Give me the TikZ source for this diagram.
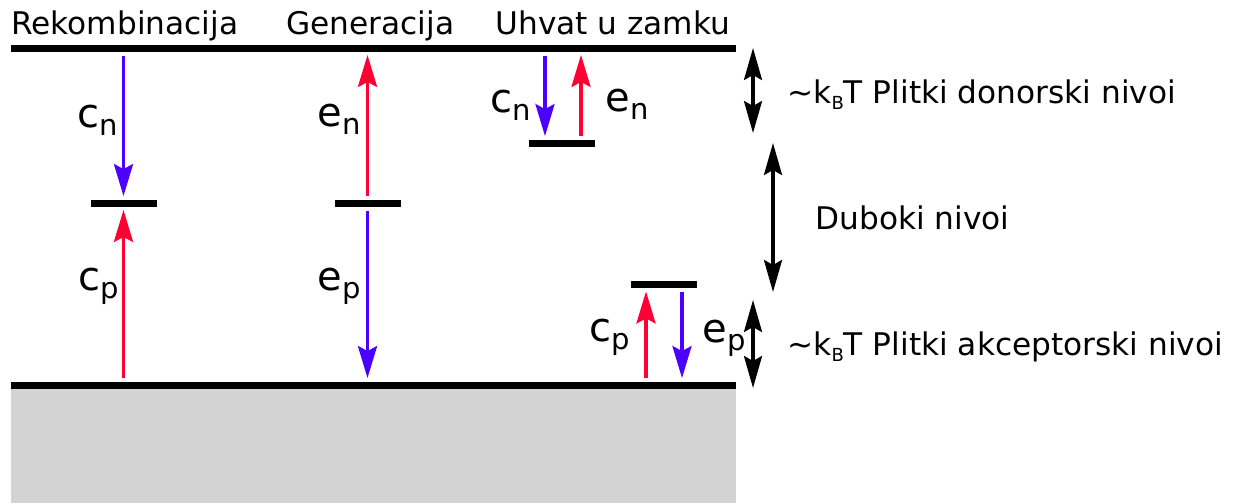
\documentclass[tikz,border=0pt]{standalone}
\usepackage{fontspec}
\setmainfont{DejaVu Sans}
\definecolor{cBlue}{HTML}{4C00FF}
\definecolor{cRed}{HTML}{FF0033}
\definecolor{cFill}{HTML}{D3D3D3}
\usetikzlibrary{arrows.meta}
\newcommand{\rate}[2]{{\fontsize{20}{24}\selectfont #1\raisebox{-4pt}{\fontsize{14.5}{16}\selectfont #2}}}
\newcommand{\kbt}{\textasciitilde k\raisebox{-3pt}{\fontsize{9}{10}\selectfont B}T}

\begin{document}
\begin{tikzpicture}[x=0.5pt,y=-0.5pt,
      band/.style={fill=black,inner sep=0,minimum width=362.5pt,minimum height=3.5pt},
      lvl/.style={fill=black,inner sep=0,minimum width=33pt,minimum height=3.5pt},
      head/.style={font=\fontsize{15.6}{18}\selectfont,anchor=base west,inner sep=0},
      rlab/.style={anchor=base west,inner sep=0},
      ncap/.style={color=cBlue,line width=1.75pt,-{Stealth[length=16pt,width=9.5pt,inset=2.5pt]},shorten <=2pt,shorten >=1.5pt},
      pcap/.style={color=cRed,line width=1.75pt,-{Stealth[length=16pt,width=9.5pt,inset=2.5pt]},shorten <=1.5pt,shorten >=1.5pt},
      span/.style={line width=1.6pt,{Stealth[length=16pt,width=9pt,inset=2.5pt]}-{Stealth[length=16pt,width=9pt,inset=2.5pt]}}]
    \useasboundingbox (0,0) rectangle (1234,503);
    % valence band fill and band edges
    \fill[cFill] (11,388) rectangle (736,503);
    \node[band] (cb) at (373.5,48) {};
    \node[band] (vb) at (373.5,385) {};
    % column titles
    \node[head] (tRek) at (11,34) {Rekombinacija};
    \node[head] (tGen) at (286,34) {Generacija};
    \node[head] (tUhv) at (495,34) {Uhvat u zamku};
    % trap levels
    \node[lvl] (rl) at (123.5,203) {};
    \node[lvl] (gl) at (367.5,203) {};
    \node[lvl] (dl) at (562,143) {};
    \node[lvl] (al) at (663.5,284.5) {};
    % recombination
    \draw[ncap] (rl |- cb.south) -- (rl.north);
    \draw[pcap] (rl |- vb.north) -- (rl.south);
    \node[rlab] (rcn) at (77,127) {\rate{c}{n}};
    \node[rlab] (rcp) at (78,290) {\rate{c}{p}};
    % generation
    \draw[pcap] (gl.north) -- (gl |- cb.south);
    \draw[ncap] (gl.south) -- (gl |- vb.north);
    \node[rlab] (gen) at (317,126) {\rate{e}{n}};
    \node[rlab] (gep) at (317,290) {\rate{e}{p}};
    % shallow traps
    \draw[ncap] ([xshift=-8.5pt]dl.north |- cb.south) -- ([xshift=-8.5pt]dl.north);
    \draw[pcap] ([xshift=9.5pt]dl.north) -- ([xshift=9.5pt]dl.north |- cb.south);
    \node[rlab] (dcn) at (490,112) {\rate{c}{n}};
    \node[rlab] (den) at (605,111) {\rate{e}{n}};
    \draw[pcap] ([xshift=-8.75pt]al.south |- vb.north) -- ([xshift=-8.75pt]al.south);
    \draw[ncap] ([xshift=9.25pt]al.south) -- ([xshift=9.25pt]al.south |- vb.north);
    \node[rlab] (acp) at (589,341) {\rate{c}{p}};
    \node[rlab] (aep) at (702,342) {\rate{e}{p}};
    % energy ranges
    \coordinate (d0) at (753,48);  \coordinate (d1) at (753,133);
    \coordinate (m0) at (773,143); \coordinate (m1) at (773,292);
    \coordinate (a0) at (753,300); \coordinate (a1) at (753,388);
    \draw[span] (d0) -- (d1);
    \draw[span] (m0) -- (m1);
    \draw[span] (a0) -- (a1);
    \node[head] (tDon) at (787,103) {\kbt\ Plitki donorski nivoi};
    \node[head] (tDub) at (815,229) {Duboki nivoi};
    \node[head] (tAkc) at (787,355) {\kbt\ Plitki akceptorski nivoi};
\end{tikzpicture}
\end{document}
